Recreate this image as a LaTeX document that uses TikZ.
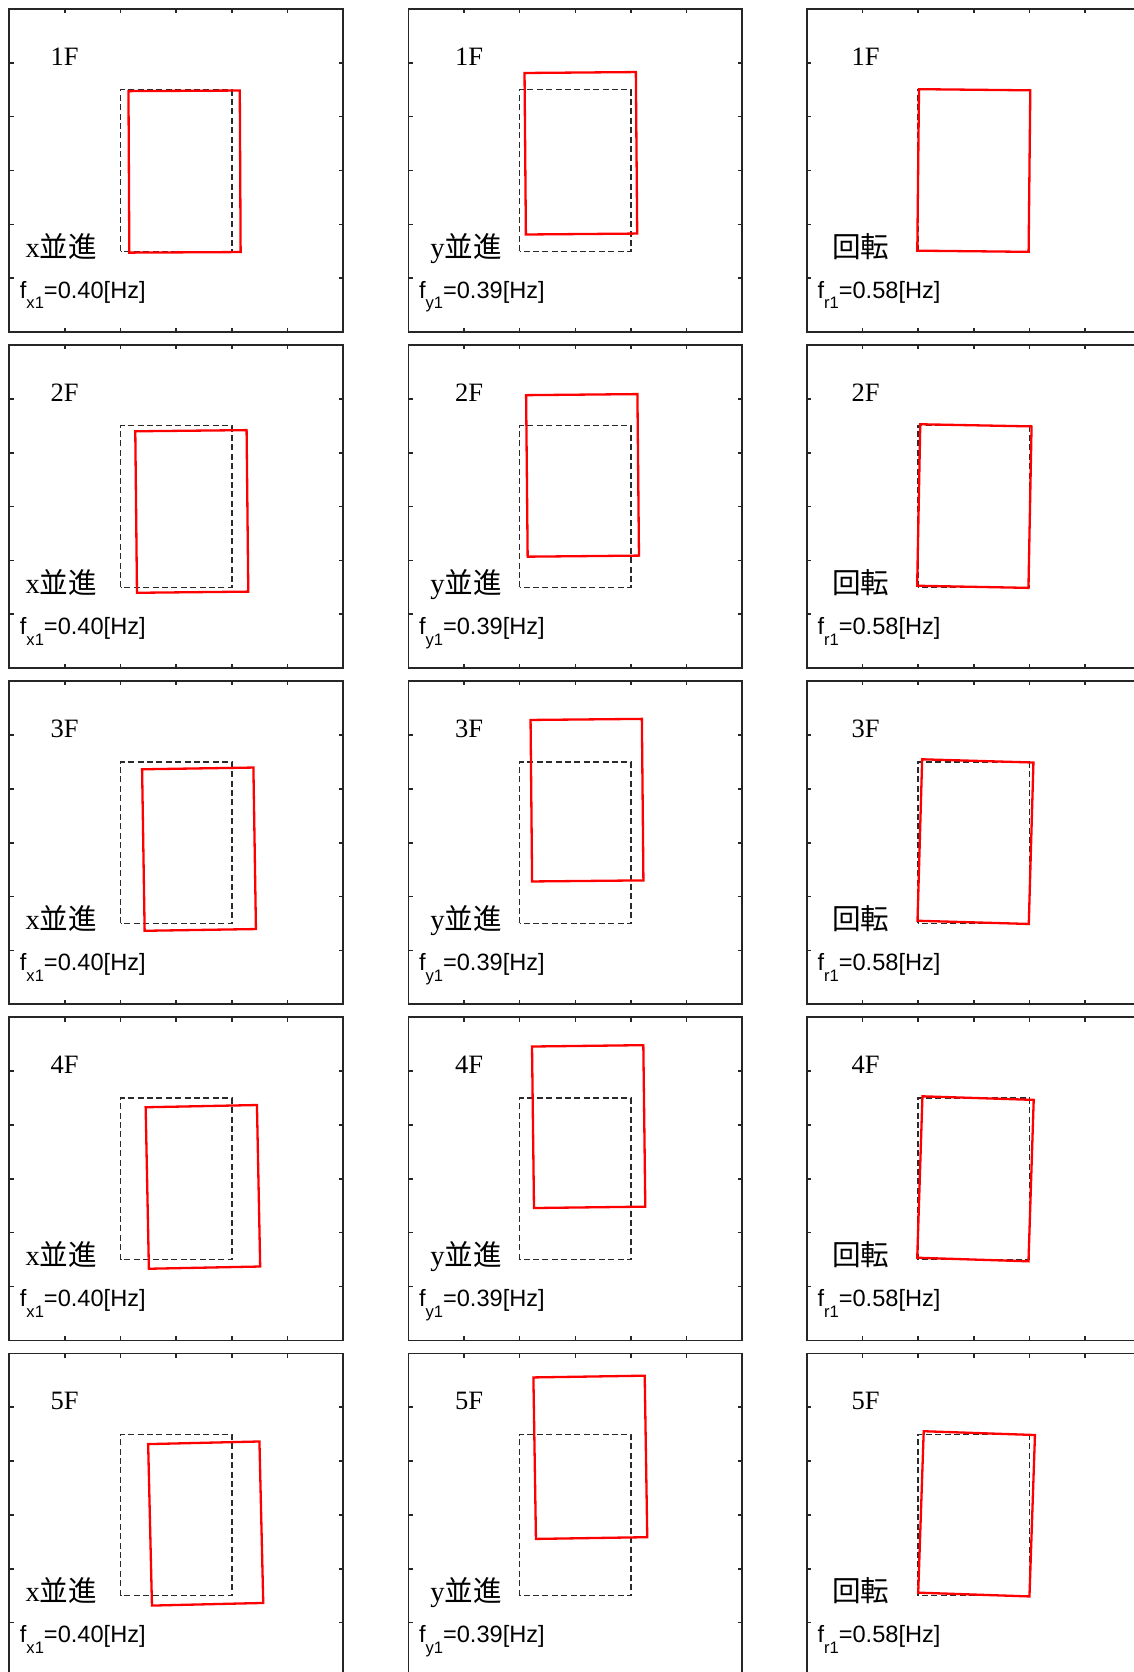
\documentclass[tikz,border=0pt]{standalone}
\usepackage{fontspec}
\setmainfont{Liberation Serif}
\newfontfamily\jpfont{Noto Sans CJK JP}
\newfontfamily\hzfont{Liberation Sans}
\newcommand{\lowsub}[1]{\raisebox{-0.45em}{\fontsize{8.3pt}{8.3pt}\selectfont #1}}
\newcommand{\modename}[1]{\ifcase#1\or x{\jpfont 並進}\or y{\jpfont 並進}\or{\jpfont 回転}\fi}
\newcommand{\freqname}[1]{\ifcase#1\or f\lowsub{x1}=0.40[Hz]\or f\lowsub{y1}=0.39[Hz]\or f\lowsub{r1}=0.58[Hz]\fi}
\definecolor{framegray}{HTML}{262626}
\definecolor{dashgray}{HTML}{2A2A2A}
\tikzset{
  panelframe/.style={draw=framegray, line width=0.8pt},
  refshape/.style={draw=dashgray, line width=0.65pt, dash pattern=on 3pt off 1.7pt},
  modeshape/.style={draw=red, line width=1.15pt, line join=miter},
  floorlabel/.style={anchor=base west, inner sep=0pt, font=\fontsize{13.25pt}{14pt}\selectfont},
  modelabel/.style={anchor=base west, inner sep=0pt, font=\fontsize{14.3pt}{15pt}\selectfont},
  freqlabel/.style={anchor=base west, inner sep=0pt, font=\hzfont\fontsize{11.8pt}{13pt}\selectfont},
}
\begin{document}
\begin{tikzpicture}[x=0.5pt, y=-0.5pt]
\useasboundingbox (0,0) rectangle (1134,1672);
\clip (0,0) rectangle (1134,1672);
% column/floor/shift x/shift y/rotation of the mode shape
\foreach \col/\row/\dx/\dy/\rot in {
  1/1/0.15/-0.02/0.3,  1/2/0.28/-0.09/0.6,  1/3/0.41/-0.12/0.9,
  1/4/0.48/-0.15/1.15, 1/5/0.53/-0.16/1.35,
  2/1/0.10/0.32/0.48,  2/2/0.13/0.58/0.55,  2/3/0.21/0.79/0.55,
  2/4/0.24/0.97/0.7,   2/5/0.27/1.07/0.9,
  3/1/0.00/0.00/-0.6,  3/2/0.01/0.01/-1.1,  3/3/0.03/0.02/-1.65,
  3/4/0.03/0.00/-1.85, 3/5/0.05/0.02/-1.95}{
  \pgfmathsetmacro{\px}{{9.2,408.3,806.8}[\col-1]}
  \pgfmathsetmacro{\py}{9+336.1*(\row-1)}
  \pgfmathsetmacro{\fx}{{41,46.5,44.5}[\col-1]}
  \pgfmathsetmacro{\mx}{{16,21.7,25}[\col-1]}
  \begin{scope}[shift={(\px+167,\py+161.5)}, x=27.83pt, y=26.92pt]
    % axes box, ticks inward
    \draw[panelframe] (-3,-3) rectangle (3,3);
    \foreach \t in {-2,...,2}{
      \draw[panelframe] (\t,3) -- ++(0,-0.08) (\t,-3) -- ++(0,0.08)
        (-3,\t) -- ++(0.078,0) (3,\t) -- ++(-0.078,0);
    }
    \draw[refshape] (-1,-1.5) rectangle (1,1.5);
    \draw[modeshape, shift={(\dx,\dy)}, rotate=\rot]
      (-1,-1.5) -- (1,-1.5) -- (1,1.5) -- (-1,1.5) -- cycle;
  \end{scope}
  \node[floorlabel] (floor-\col-\row) at (\px+\fx,\py+56) {\row F};
  \node[modelabel] (mode-\col-\row) at (\px+\mx,\py+248) {\modename{\col}};
  \node[freqlabel] (freq-\col-\row) at (\px+10.3,\py+289.3) {\freqname{\col}};
}
\end{tikzpicture}
\end{document}
